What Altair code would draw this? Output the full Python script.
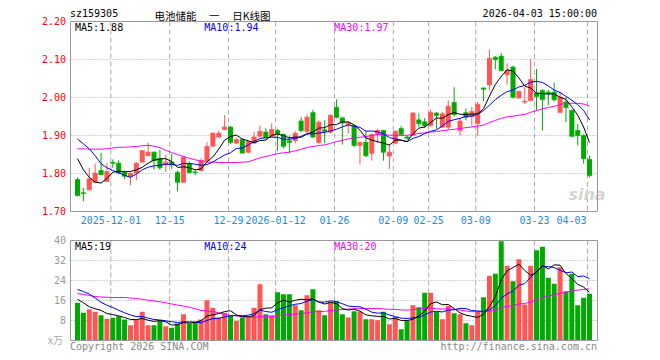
import altair as alt
import pandas as pd

# ---------------- data ----------------
opens = [1.784, 1.749, 1.757, 1.777, 1.808, 1.779, 1.829, 1.827, 1.803, 1.792,
         1.801, 1.830, 1.847, 1.856, 1.839, 1.824, 1.830, 1.803, 1.777, 1.825,
         1.804, 1.808, 1.834, 1.872, 1.896, 1.916, 1.922, 1.880, 1.889, 1.856,
         1.880, 1.898, 1.909, 1.898, 1.913, 1.903, 1.886, 1.887, 1.938, 1.911,
         1.960, 1.882, 1.915, 1.909, 1.974, 1.946, 1.929, 1.926, 1.874, 1.882,
         1.853, 1.904, 1.913, 1.846, 1.880, 1.918, 1.896, 1.900, 1.941, 1.936,
         1.926, 1.959, 1.922, 1.922, 1.987, 1.913, 1.960, 1.950, 1.931, 2.025,
         2.033, 2.106, 2.108, 2.060, 2.080, 1.999, 1.988, 1.992, 2.012, 2.018,
         2.014, 2.014, 1.961, 1.988, 1.966, 1.913, 1.900, 1.837]
closes = [1.742, 1.748, 1.786, 1.801, 1.797, 1.805, 1.827, 1.801, 1.793, 1.800,
          1.827, 1.860, 1.856, 1.834, 1.815, 1.830, 1.823, 1.777, 1.843, 1.803,
          1.803, 1.834, 1.871, 1.906, 1.906, 1.922, 1.882, 1.889, 1.854, 1.884,
          1.896, 1.911, 1.894, 1.916, 1.904, 1.872, 1.882, 1.906, 1.913, 1.948,
          1.896, 1.935, 1.911, 1.953, 1.948, 1.933, 1.934, 1.874, 1.882, 1.847,
          1.902, 1.913, 1.856, 1.856, 1.911, 1.903, 1.893, 1.959, 1.931, 1.926,
          1.961, 1.953, 1.957, 1.977, 1.955, 1.938, 1.948, 1.963, 1.982, 2.022,
          2.103, 2.100, 2.071, 2.071, 2.001, 2.016, 1.990, 2.047, 2.003, 1.995,
          2.010, 1.994, 2.001, 1.974, 1.898, 1.900, 1.839, 1.795]
highs = [1.790, 1.762, 1.815, 1.826, 1.855, 1.827, 1.837, 1.835, 1.808, 1.803,
         1.830, 1.862, 1.881, 1.858, 1.862, 1.849, 1.852, 1.808, 1.845, 1.832,
         1.810, 1.840, 1.882, 1.909, 1.912, 1.953, 1.925, 1.893, 1.892, 1.886,
         1.910, 1.926, 1.919, 1.932, 1.918, 1.905, 1.900, 1.911, 1.948, 1.955,
         1.968, 1.940, 1.940, 1.956, 1.995, 1.950, 1.937, 1.928, 1.884, 1.913,
         1.905, 1.918, 1.915, 1.877, 1.914, 1.925, 1.899, 1.962, 1.958, 1.946,
         1.968, 1.962, 1.962, 1.992, 2.027, 1.945, 1.971, 1.975, 1.988, 2.026,
         2.126, 2.109, 2.117, 2.090, 2.084, 2.018, 2.027, 2.100, 2.075, 2.022,
         2.020, 2.039, 2.016, 2.000, 1.968, 1.930, 1.903, 1.847]
lows = [1.740, 1.727, 1.756, 1.776, 1.796, 1.778, 1.815, 1.798, 1.785, 1.769,
        1.782, 1.829, 1.845, 1.810, 1.810, 1.804, 1.812, 1.753, 1.775, 1.799,
        1.795, 1.805, 1.832, 1.870, 1.893, 1.914, 1.878, 1.877, 1.852, 1.852,
        1.878, 1.896, 1.890, 1.896, 1.859, 1.866, 1.853, 1.879, 1.909, 1.905,
        1.893, 1.877, 1.880, 1.905, 1.945, 1.876, 1.904, 1.869, 1.824, 1.843,
        1.834, 1.880, 1.834, 1.812, 1.877, 1.900, 1.889, 1.898, 1.922, 1.920,
        1.924, 1.918, 1.920, 1.915, 1.950, 1.900, 1.940, 1.926, 1.900, 1.990,
        2.018, 2.074, 2.068, 2.034, 1.997, 1.997, 1.983, 1.990, 1.966, 1.913,
        1.980, 1.990, 1.958, 1.935, 1.895, 1.874, 1.826, 1.790]
volumes = [15.1, 11.1, 12.5, 11.5, 10.1, 8.7, 9.1, 9.7, 8.4, 6.1,
           8.4, 11.5, 6.1, 6.1, 7.9, 5.7, 5.1, 6.8, 10.5, 6.8,
           7.1, 8.4, 16.1, 13.1, 9.2, 11.1, 10.1, 7.9, 9.2, 9.2,
           13.1, 22.5, 10.5, 10.1, 19.3, 18.5, 18.5, 14.1, 12.1, 18.1,
           20.5, 12.1, 10.1, 15.5, 15.7, 10.5, 9.2, 11.7, 11.5, 8.5,
           8.5, 8.1, 11.5, 6.5, 9.5, 4.5, 7.9, 14.1, 13.3, 19.1,
           19.1, 11.5, 8.5, 13.9, 10.9, 10.5, 6.9, 6.1, 11.7, 17.3,
           25.9, 26.7, 39.7, 29.9, 23.7, 32.5, 14.4, 29.9, 36.1, 37.5,
           25.1, 22.7, 29.3, 19.7, 26.7, 14.1, 17.1, 18.7]

ma5_head = [1.839, 1.810, 1.790, 1.777]
ma10_head = [1.891, 1.878, 1.865, 1.847, 1.826, 1.815, 1.808, 1.802, 1.795]
ma30_head = [1.865, 1.865, 1.864, 1.864, 1.864, 1.865, 1.867, 1.869, 1.869, 1.870,
             1.871, 1.873, 1.874, 1.872, 1.868, 1.861, 1.855, 1.850, 1.845, 1.840,
             1.836, 1.833, 1.830, 1.830, 1.829, 1.829, 1.829, 1.829, 1.830]
vma5_head = [16.5, 15.1, 13.5, 12.7]
vma10_head = [20.4, 19.6, 18.6, 17.0, 15.3, 14.1, 13.2, 12.1, 11.1]
vma30_head = [18.8, 18.5, 18.0, 17.6, 17.4, 17.3, 17.2, 17.2, 17.2, 17.0,
              16.8, 16.5, 16.1, 15.8, 15.5, 15.1, 14.6, 14.2, 13.8, 13.3,
              12.7, 12.0, 11.8, 11.6, 11.1, 10.5, 10.0, 9.8, 9.6]

date_idx = [6, 16, 26, 34, 44, 54, 60, 68, 78, 87]
date_labels = ["2025-12-01", "12-15", "12-29", "2026-01-12", "01-26",
               "02-09", "02-25", "03-09", "03-23", "04-03"]
price_ticks = [2.20, 2.10, 2.00, 1.90, 1.80, 1.70]
price_tick_labels = ["2.20", "2.10", "2.00", "1.90", "1.80", "1.70"]
price_grid = [2.10, 2.00, 1.90, 1.80]
vol_ticks = [40, 32, 24, 16, 8]
vol_tick_labels = ["40", "32", "24", "16", "8"]
vol_grid = [32, 24, 16, 8]

# ---------------- derived tables ----------------
def sma(vals, n, head):
    out = []
    for i in range(len(vals)):
        if i >= n - 1:
            out.append(sum(vals[i - n + 1:i + 1]) / n)
        else:
            out.append(head[i])
    return out

RED = "#ff5555"
GREEN = "#00aa00"
n = len(closes)
df = pd.DataFrame({
    "idx": list(range(n)), "open": opens, "close": closes, "high": highs,
    "low": lows, "vol": volumes,
    "col": [RED if c >= o else GREEN for o, c in zip(opens, closes)],
    "ma5": sma(closes, 5, ma5_head), "ma10": sma(closes, 10, ma10_head),
    "ma30": sma(closes, 30, ma30_head),
    "vma5": sma(volumes, 5, vma5_head), "vma10": sma(volumes, 10, vma10_head),
    "vma30": sma(volumes, 30, vma30_head),
})
dates = pd.DataFrame({"gx": [i - 1.0 / 3 for i in date_idx], "t": date_labels})
pt = pd.DataFrame({"p": price_ticks, "t": price_tick_labels})
pg = pd.DataFrame({"p": price_grid})
vt = pd.DataFrame({"v": vol_ticks, "t": vol_tick_labels})
vg = pd.DataFrame({"v": vol_grid})

MONO = "DejaVu Sans Mono"
XS = alt.Scale(domain=[0, 87], range=[64.5, 586.5], zero=False, nice=False)
PS = alt.Scale(domain=[1.70, 2.20], range=[203.5, 13.5], zero=False, nice=False)
VS = alt.Scale(domain=[0, 40], range=[332.5, 232.5], zero=False, nice=False)
X = alt.X("idx:Q", scale=XS, axis=None)
GRID = "#aaaaaa"
FRAME = "#999999"


def py(f):
    return alt.Y(f, scale=PS, axis=None)


def vy(f):
    return alt.Y(f, scale=VS, axis=None)


def label(txt, x, y, color, align="left", size=10, font=MONO, **kw):
    return alt.Chart(pd.DataFrame({"t": [txt]})).mark_text(
        align=align, baseline="middle", font=font, fontSize=size, color=color, **kw
    ).encode(x=alt.value(x), y=alt.value(y), text="t:N")


one = pd.DataFrame({"a": [0]})
layers = []

# grids
layers.append(alt.Chart(pg).mark_rule(color=GRID, strokeDash=[1, 2]).encode(
    y=py("p:Q"), x=alt.value(62.5), x2=alt.value(589.5)))
layers.append(alt.Chart(vg).mark_rule(color=GRID, strokeDash=[1, 2]).encode(
    y=vy("v:Q"), x=alt.value(62.5), x2=alt.value(589.5)))
layers.append(alt.Chart(dates).mark_rule(color=GRID, strokeDash=[5, 3]).encode(
    x=alt.X("gx:Q", scale=XS, axis=None), y=alt.value(13.5), y2=alt.value(203.5)))
layers.append(alt.Chart(dates).mark_rule(color=GRID, strokeDash=[5, 3]).encode(
    x=alt.X("gx:Q", scale=XS, axis=None), y=alt.value(232.5), y2=alt.value(332.5)))

# watermark
layers.append(label("sina", 579, 187, "#d4d4d4", align="center", size=16,
                    font="DejaVu Sans", fontStyle="italic", fontWeight="bold"))

# candles
base = alt.Chart(df)
col = alt.Color("col:N", scale=None)
layers.append(base.mark_rule(strokeWidth=1).encode(x=X, y=py("low:Q"), y2="high:Q", color=col))
layers.append(base.mark_bar(size=5).encode(x=X, y=py("open:Q"), y2="close:Q", color=col))
layers.append(base.mark_tick(orient="horizontal", size=5, thickness=1).encode(
    x=X, y=py("close:Q"), color=col))
layers.append(base.mark_tick(orient="horizontal", size=5, thickness=1).encode(
    x=X, y=py("open:Q"), color=col))
for f, c in [("ma30", "#ff00ff"), ("ma10", "#0000ff"), ("ma5", "#000000")]:
    layers.append(base.mark_line(color=c, strokeWidth=1).encode(x=X, y=py(f + ":Q")))

# volume
layers.append(base.mark_bar(size=5).encode(x=X, y=vy("vol:Q"), color=col))
for f, c in [("vma30", "#ff00ff"), ("vma10", "#0000ff"), ("vma5", "#000000")]:
    layers.append(base.mark_line(color=c, strokeWidth=1).encode(x=X, y=vy(f + ":Q")))

# frames
layers.append(alt.Chart(one).mark_rect(fillOpacity=0, stroke=FRAME, strokeWidth=1).encode(
    x=alt.value(62.5), x2=alt.value(589.5), y=alt.value(13.5), y2=alt.value(203.5)))
layers.append(alt.Chart(one).mark_rect(fillOpacity=0, stroke=FRAME, strokeWidth=1).encode(
    x=alt.value(62.5), x2=alt.value(589.5), y=alt.value(232.5), y2=alt.value(332.5)))

# axis labels
layers.append(alt.Chart(pt).mark_text(align="right", baseline="middle", font=MONO,
                                      fontSize=10, color="#ff0000").encode(
    x=alt.value(58), y=py("p:Q"), text="t:N"))
layers.append(alt.Chart(vt).mark_text(align="right", baseline="middle", font=MONO,
                                      fontSize=10, color="#999999").encode(
    x=alt.value(58), y=vy("v:Q"), text="t:N"))
layers.append(label("x万", 55, 333, "#aaaaaa", align="right", size=10, font="Noto Sans CJK SC"))
DATEBLUE = "#1a8ae6"
layers.append(alt.Chart(dates.iloc[:-1]).mark_text(align="center", baseline="middle", font=MONO,
                                                   fontSize=10, color=DATEBLUE).encode(
    x=alt.X("gx:Q", scale=XS, axis=None), y=alt.value(213), text="t:N"))
layers.append(alt.Chart(dates.iloc[-1:]).mark_text(align="right", baseline="middle", font=MONO,
                                                   fontSize=10, color=DATEBLUE, dx=-1).encode(
    x=alt.X("gx:Q", scale=XS, axis=None), y=alt.value(213), text="t:N"))

# legends & titles
layers += [
    label("MA5:1.88", 67, 19.5, "#000000"),
    label("MA10:1.94", 196.3, 19.5, "#0000ff"),
    label("MA30:1.97", 326.3, 19.5, "#ff00ff"),
    label("MA5:19", 67, 238.5, "#000000"),
    label("MA10:24", 196.3, 238.5, "#0000ff"),
    label("MA30:20", 326.3, 238.5, "#ff00ff"),
    label("sz159305", 62, 5.5, "#000000"),
    label("电池储能\u2003\u2009一\u2003\u2009日K线图", 204.5, 9, "#000000", align="center",
          size=10.5, font="Noto Sans CJK SC"),
    label("2026-04-03 15:00:00", 589, 5.5, "#000000", align="right"),
    label("Copyright 2026 SINA.COM", 62, 339, "#888888"),
    label("http://finance.sina.com.cn", 589, 339, "#888888", align="right"),
]

chart = alt.layer(*layers).resolve_scale(y="independent").properties(
    width=644, height=344, padding=0,
    autosize=alt.AutoSizeParams(type="none"),
).configure_view(strokeWidth=0)

chart.save("out.html", embed_options={"renderer": "svg", "actions": False})
